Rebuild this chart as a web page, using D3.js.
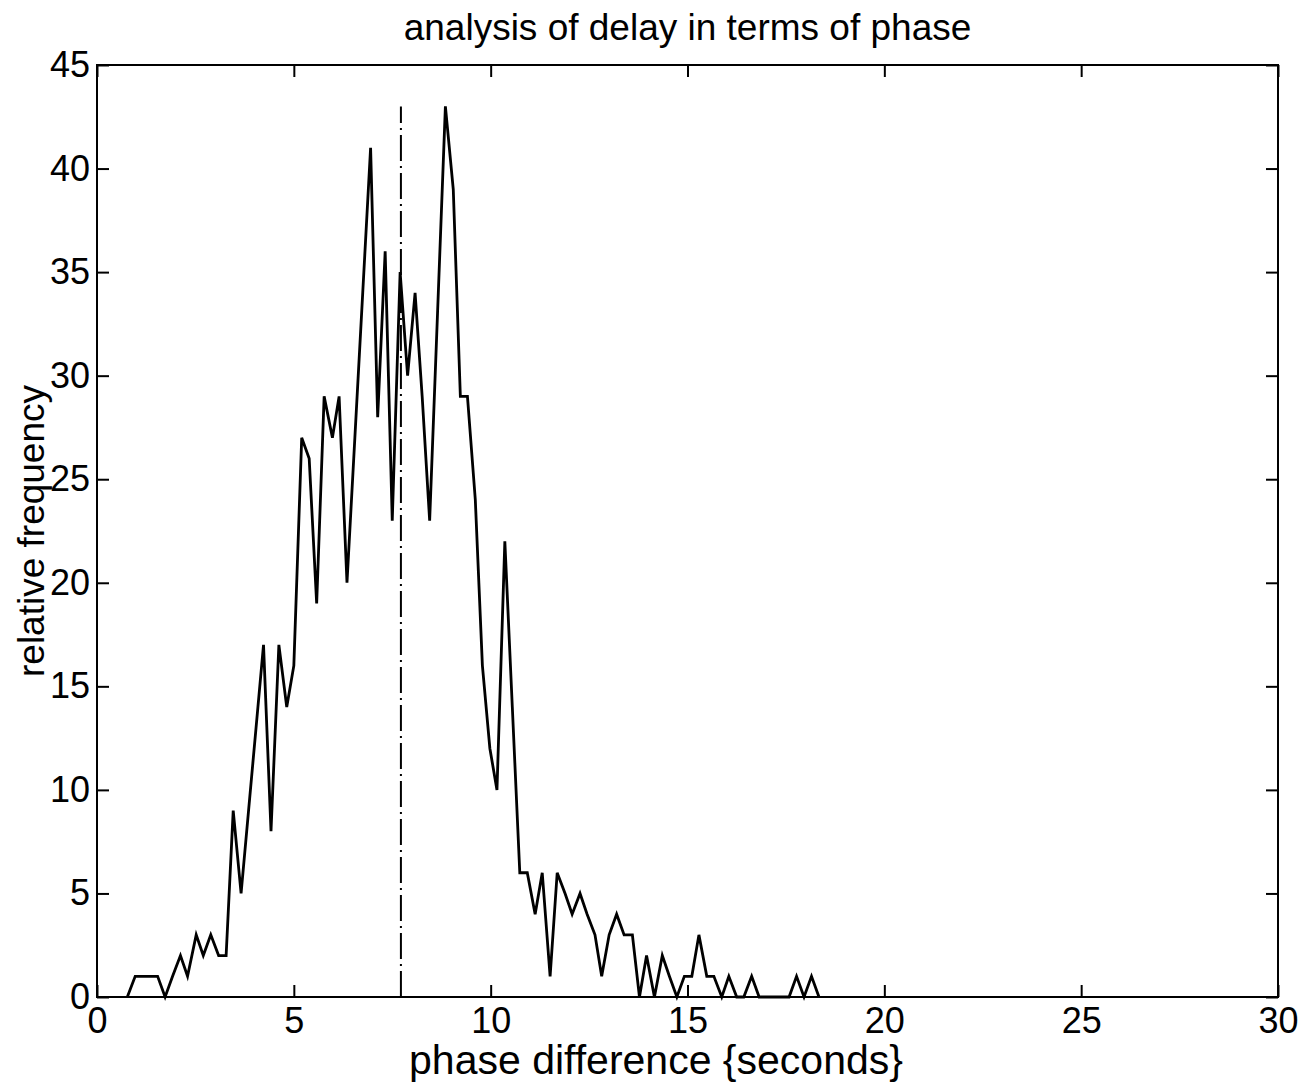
<!DOCTYPE html>
<html>
<head>
<meta charset="utf-8">
<script src="https://cdn.jsdelivr.net/npm/d3@7"></script>
<style>
  body { margin: 0; background: #fff; }
  svg text { font-family: "Liberation Sans", Arial, Helvetica, sans-serif; fill: #000; }
</style>
</head>
<body>
<div class="chart"></div>
<script>
// phase difference (seconds) at each histogram point
var phase = [0.77, 0.97, 1.16, 1.35, 1.54, 1.73, 1.92, 2.12, 2.30, 2.52,
  2.70, 2.89, 3.09, 3.28, 3.46, 3.66, 3.85, 4.04, 4.23, 4.42,
  4.62, 4.82, 5.00, 5.20, 5.39, 5.58, 5.77, 5.98, 6.15, 6.35,
  6.55, 6.75, 6.95, 7.13, 7.32, 7.50, 7.70, 7.89, 8.08, 8.26,
  8.45, 8.65, 8.85, 9.05, 9.23, 9.41, 9.61, 9.79, 9.98, 10.16,
  10.36, 10.55, 10.74, 10.93, 11.13, 11.31, 11.51, 11.69, 11.89, 12.07,
  12.27, 12.45, 12.65, 12.82, 13.01, 13.20, 13.39, 13.60, 13.78, 13.96,
  14.16, 14.36, 14.54, 14.73, 14.92, 15.11, 15.29, 15.49, 15.67, 15.87,
  16.05, 16.25, 16.43, 16.63, 16.82, 17.01, 17.20, 17.39, 17.58, 17.77,
  17.96, 18.15, 18.34];
// relative frequency
var freq = [0, 1, 1, 1, 1, 0, 1, 2, 1, 3,
  2, 3, 2, 2, 9, 5, 9, 13, 17, 8,
  17, 14, 16, 27, 26, 19, 29, 27, 29, 20,
  27, 34, 41, 28, 36, 23, 35, 30, 34, 29,
  23, 33, 43, 39, 29, 29, 24, 16, 12, 10,
  22, 14, 6, 6, 4, 6, 1, 6, 5, 4,
  5, 4, 3, 1, 3, 4, 3, 3, 0, 2,
  0, 2, 1, 0, 1, 1, 3, 1, 1, 0,
  1, 0, 0, 1, 0, 0, 0, 0, 0, 1,
  0, 1, 0];
// dash-dot marker line (mean delay)
var meanPhase = 7.72;
var meanTop = 43;

var xTicks = [0, 5, 10, 15, 20, 25, 30];
var yTicks = [0, 5, 10, 15, 20, 25, 30, 35, 40, 45];

var width = 1311;
var height = 1084;
var margin = {top: 65, right: 33, bottom: 87, left: 97};

var svg = d3.select('.chart')
  .append('svg')
  .attr('width', width)
  .attr('height', height)

var x = d3.scaleLinear().domain([0, 30]).range([margin.left, width - margin.right])
var y = d3.scaleLinear().domain([0, 45]).range([height - margin.bottom, margin.top])

var tickLen = 12
var fontSize = 36

// box
svg.append('rect')
  .attr('x', x(0))
  .attr('y', y(45))
  .attr('width', x(30) - x(0))
  .attr('height', y(0) - y(45))
  .attr('fill', 'none')
  .attr('stroke', '#000')
  .attr('stroke-width', 2)

// axes with inward ticks
var xBottom = svg.append('g')
  .attr('transform', 'translate(0,' + y(0) + ')')
  .call(d3.axisBottom(x).tickValues(xTicks).tickSize(-tickLen).tickPadding(10).tickFormat(d3.format('d')))
var xTop = svg.append('g')
  .attr('transform', 'translate(0,' + y(45) + ')')
  .call(d3.axisTop(x).tickValues(xTicks).tickSize(-tickLen).tickFormat(''))
var yLeft = svg.append('g')
  .attr('transform', 'translate(' + x(0) + ',0)')
  .call(d3.axisLeft(y).tickValues(yTicks).tickSize(-tickLen).tickPadding(7).tickFormat(d3.format('d')))
var yRight = svg.append('g')
  .attr('transform', 'translate(' + x(30) + ',0)')
  .call(d3.axisRight(y).tickValues(yTicks).tickSize(-tickLen).tickFormat(''))

svg.selectAll('.domain').remove()
svg.selectAll('.tick line').attr('stroke', '#000').attr('stroke-width', 2)
svg.selectAll('.tick text')
  .style('font-size', fontSize + 'px')
  .style('font-family', '"Liberation Sans", Arial, Helvetica, sans-serif')
  .attr('fill', '#000')

// data line
var line = d3.line()
  .x(function (d, i) { return x(phase[i]) })
  .y(function (d) { return y(d) })

svg.append('path')
  .datum(freq)
  .attr('d', line)
  .attr('fill', 'none')
  .attr('stroke', '#000')
  .attr('stroke-width', 2.8)
  .attr('stroke-linejoin', 'miter')

// dash-dot line
svg.append('line')
  .attr('x1', x(meanPhase))
  .attr('x2', x(meanPhase))
  .attr('y1', y(0))
  .attr('y2', y(meanTop))
  .attr('stroke', '#000')
  .attr('stroke-width', 2)
  .attr('stroke-dasharray', '26,5,2,5')

// title and labels
svg.append('text')
  .attr('x', (x(0) + x(30)) / 2)
  .attr('y', 40)
  .attr('text-anchor', 'middle')
  .style('font-size', '37px')
  .text('analysis of delay in terms of phase')

svg.append('text')
  .attr('x', 656)
  .attr('y', 1074)
  .attr('text-anchor', 'middle')
  .style('font-size', '41px')
  .text('phase difference {seconds}')

svg.append('text')
  .attr('transform', 'translate(44,' + ((y(0) + y(45)) / 2) + ') rotate(-90)')
  .attr('text-anchor', 'middle')
  .style('font-size', '37px')
  .text('relative frequency')
</script>
</body>
</html>
